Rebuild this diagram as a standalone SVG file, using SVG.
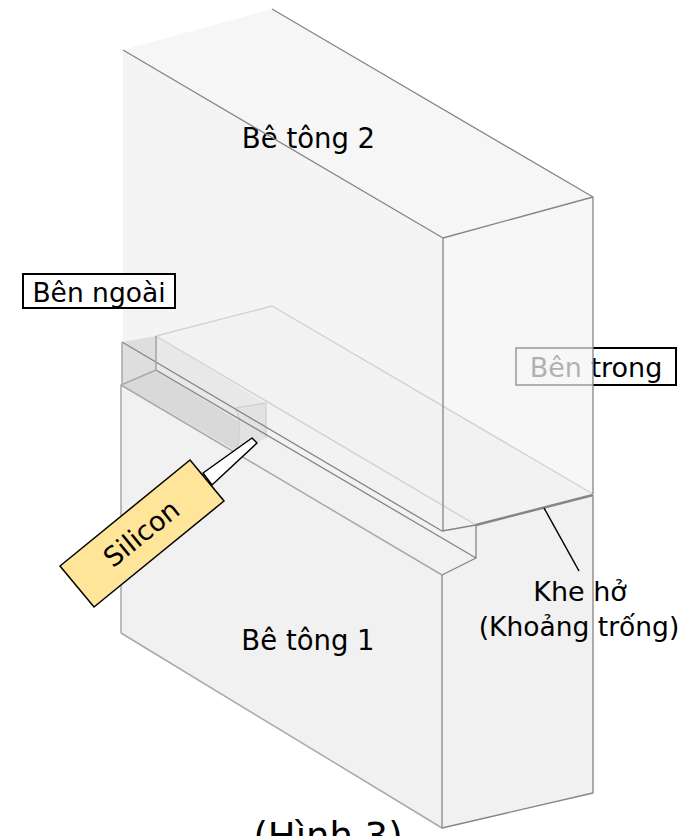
<svg xmlns="http://www.w3.org/2000/svg" width="680" height="836" viewBox="0 0 680 836">
<style>
text{font-family:"DejaVu Sans",sans-serif;font-size:27px;fill:#000;text-anchor:middle}
.e{fill:none;stroke:#858585;stroke-width:1.3;stroke-linejoin:round}
.g{fill:none;stroke:#a8a8a8;stroke-width:1.5}
.f{fill:none;stroke:#d2d2d2;stroke-width:1.4}
.lb{fill:#fff;stroke:#000;stroke-width:2}
</style>
<rect width="680" height="836" fill="#fff"/>
<g id="label-ben-trong">
<rect class="lb" x="516" y="348" width="160" height="37"/>
<text x="596" y="377">Bên trong</text>
</g>
<g id="be-tong-1">
<path d="M121 385L156 370L476 558V525L593 495V793L442 828L121 633Z" fill="#f1f1f1"/>
<text x="308" y="650" style="font-size:27.5px">Bê tông 1</text>
</g>
<g id="be-tong-2">
<path d="M123 50L272 9L593 197L443 238Z" fill="#f6f6f6"/>
<path d="M123 50L443 238V531L123 342Z" fill="#f4f4f4"/>
<path d="M443 238L593 197V494L443 531Z" fill="#f4f4f4" fill-opacity=".72"/>
<text x="308.500" y="148" style="font-size:27.5px">Bê tông 2</text>
</g>
<g id="khe-ho">
<path d="M156 336L272 306L593 494L476 525V558L156 370Z" fill="#f2f2f2"/>
<path d="M122 342L156 336V370L122 385Z" fill="#dedede"/>
<path d="M156 336L266 404V438L156 370Z" fill="#e8e8e8"/>
</g>
<g id="silicon-bead">
<path d="M122 385L156 370L266 438L236 451Z" fill="#d9d9d9"/>
<path d="M236 408L266 403V438L238 451Q243 428 236 408Z" fill="#e2e2e2"/>
<path class="f" d="M236 408L266 403V438M236 408Q243 428 236 451"/>
</g>
<g id="connectors">
<path class="f" d="M156 336L272 306L593 494M156 336L476 525M156 336V370"/>
<path class="e" d="M123 50L443 238L593 197V494M272 9L593 197M443 238V531"/>
<path class="e" d="M122 342L442 531L476 525"/>
<path class="e" style="stroke-width:2.5" d="M476 525L593 495"/>
<path class="e" d="M156 370L476 558M476 525V558L442 575"/>
<path class="e" d="M442 575V828L593 793V495"/>
<path class="g" d="M121 633V385L156 370M156 336V370M121 633L442 828M122 342V385M121 385L442 575"/>
<line x1="544" y1="508" x2="579" y2="571" stroke="#000" stroke-width="1.5"/>
</g>
<g id="silicon">
<path d="M203 473L252 438L257 443L212 485Z" fill="#fff" stroke="#000" stroke-width="1.5" stroke-linejoin="round"/>
<path d="M190 460L224 501L94 607L60 566Z" fill="#ffe599" stroke="#000" stroke-width="1.5"/>
<text transform="translate(141 533) rotate(-39)" x="0" y="10">Silicon</text>
</g>
<g id="label-ben-ngoai">
<rect class="lb" x="23" y="274" width="152" height="34"/>
<text x="99" y="302" style="font-size:26.5px">Bên ngoài</text>
</g>
<g id="label-khe-ho">
<text x="580" y="601">Khe hở</text>
<text x="579" y="636" style="font-size:26.500px">(Khoảng trống)</text>
</g>
<g id="caption">
<text x="328" y="849" style="font-size:37px">(Hình 3)</text>
</g>
</svg>
